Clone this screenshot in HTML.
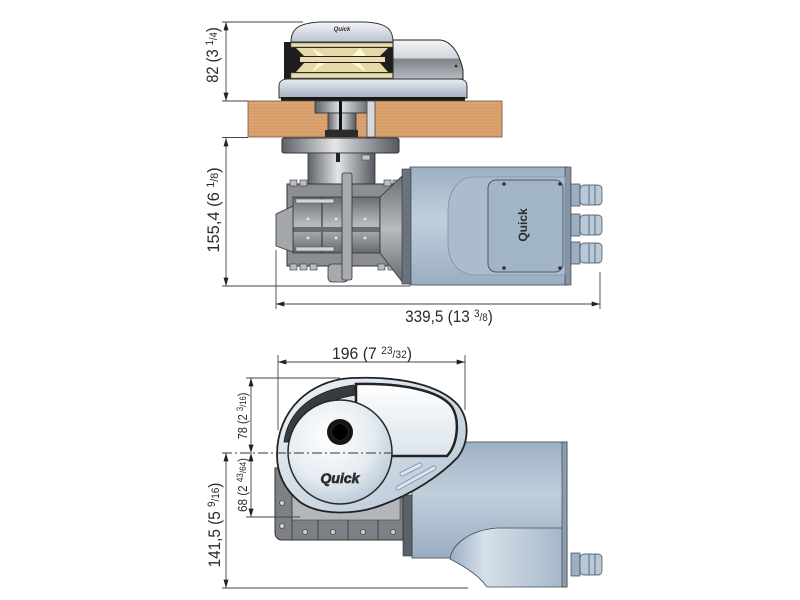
<!DOCTYPE html>
<html><head><meta charset="utf-8"><style>
html,body{margin:0;padding:0;background:#fff;}
svg{display:block;}
text{font-family:"Liberation Sans",sans-serif;fill:#2a2a2a;}
</style></head><body>
<svg width="800" height="600" viewBox="0 0 800 600" xmlns="http://www.w3.org/2000/svg">
<defs>
<marker id="ar" viewBox="0 0 10 6" refX="10" refY="3" markerWidth="9" markerHeight="5" markerUnits="userSpaceOnUse" orient="auto-start-reverse"><path d="M0,0 L10,3 L0,6 Z" fill="#222"/></marker>
<linearGradient id="dome" x1="0" y1="0" x2="0" y2="1"><stop offset="0" stop-color="#f4f6f8"/><stop offset="1" stop-color="#b9c2cc"/></linearGradient>
<linearGradient id="rcov" x1="0" y1="0" x2="0" y2="1"><stop offset="0" stop-color="#f2f4f6"/><stop offset="0.45" stop-color="#d3d8dd"/><stop offset="0.5" stop-color="#7d838a"/><stop offset="1" stop-color="#b6bbc1"/></linearGradient>
<linearGradient id="base" x1="0" y1="0" x2="0" y2="1"><stop offset="0" stop-color="#e6ecf2"/><stop offset="1" stop-color="#a3b0bf"/></linearGradient>
<linearGradient id="hmet" x1="0" y1="0" x2="1" y2="0"><stop offset="0" stop-color="#5e6166"/><stop offset="0.45" stop-color="#e4e6e8"/><stop offset="0.6" stop-color="#b9bcc0"/><stop offset="1" stop-color="#55585d"/></linearGradient>
<linearGradient id="vmet" x1="0" y1="0" x2="0" y2="1"><stop offset="0" stop-color="#6a6d72"/><stop offset="0.5" stop-color="#b8bbbf"/><stop offset="1" stop-color="#66696e"/></linearGradient>
<linearGradient id="motor" x1="0" y1="0" x2="0" y2="1"><stop offset="0" stop-color="#9db0c4"/><stop offset="0.45" stop-color="#c1cfdc"/><stop offset="1" stop-color="#9aadc1"/></linearGradient>
<linearGradient id="foot" x1="0" y1="0" x2="1" y2="0"><stop offset="0" stop-color="#9db0c4"/><stop offset="0.3" stop-color="#d6e0e9"/><stop offset="1" stop-color="#a3b5c8"/></linearGradient>
<radialGradient id="drum" cx="0.4" cy="0.35" r="0.7"><stop offset="0" stop-color="#ffffff"/><stop offset="0.6" stop-color="#e6ecf2"/><stop offset="1" stop-color="#b8c7d6"/></radialGradient>
<linearGradient id="house" x1="0" y1="0" x2="1" y2="1"><stop offset="0" stop-color="#eef3f7"/><stop offset="1" stop-color="#b4c4d4"/></linearGradient>
<linearGradient id="cover" x1="0" y1="0" x2="0" y2="1"><stop offset="0" stop-color="#ffffff"/><stop offset="1" stop-color="#dbe3ec"/></linearGradient>
</defs>
<rect width="800" height="600" fill="#fff"/>

<!-- ============ TOP VIEW ============ -->
<!-- dome & drums -->
<rect x="284" y="42" width="112" height="37" fill="#1e1e1e"/>
<rect x="291" y="43" width="102" height="4" fill="#e9ddb0" stroke="#6b6040" stroke-width="0.5"/>
<polygon points="296,48 388,48 380,56 304,56" fill="#e6d9a8"/>
<polygon points="312,48 325,56 318,56" fill="#fff6d8"/>
<polygon points="360,48 352,56 366,56" fill="#fff6d8"/>
<rect x="300" y="57" width="85" height="5" fill="#e9ddb0"/>
<polygon points="304,63 380,63 388,72 296,72" fill="#e6d9a8"/>
<polygon points="318,63 325,63 312,72" fill="#fff6d8"/>
<polygon points="352,63 360,63 366,72" fill="#fff6d8"/>
<rect x="291" y="73" width="102" height="5" fill="#e9ddb0" stroke="#6b6040" stroke-width="0.5"/>
<path d="M291,42 C291,28 300,23 320,22 L365,22 C385,23 393,28 393,42 Z" fill="url(#dome)" stroke="#333" stroke-width="1"/>
<text x="342" y="31" font-size="6" font-style="italic" font-weight="bold" text-anchor="middle" fill="#8896a6">Quick</text>
<path d="M393,40 L440,40 C452,41 460,55 463,70 L463,79 L393,79 Z" fill="url(#rcov)" stroke="#222" stroke-width="1"/>
<circle cx="456" cy="66" r="1.3" fill="#222"/>
<path d="M279,98 L279,86 C279,81 283,79 288,79 L458,79 C463,79 467,81 467,86 L467,98 Z" fill="url(#base)" stroke="#333" stroke-width="1"/>
<rect x="281" y="97" width="184" height="4" fill="#1a1a1a"/>

<!-- wood deck -->
<rect x="248" y="101" width="254" height="36" fill="#dca470" stroke="#7a5232" stroke-width="0.8"/>
<g stroke="#c68b58" stroke-width="0.6">
<line x1="249" y1="105" x2="501" y2="105"/><line x1="249" y1="108" x2="501" y2="108"/><line x1="249" y1="111" x2="501" y2="111"/><line x1="249" y1="114" x2="501" y2="114"/><line x1="249" y1="117" x2="501" y2="117"/><line x1="249" y1="120" x2="501" y2="120"/><line x1="249" y1="123" x2="501" y2="123"/><line x1="249" y1="126" x2="501" y2="126"/><line x1="249" y1="129" x2="501" y2="129"/><line x1="249" y1="132" x2="501" y2="132"/><line x1="249" y1="135" x2="501" y2="135"/>
</g>
<rect x="315" y="101" width="58" height="12" fill="url(#hmet)" stroke="#333" stroke-width="0.8"/>
<rect x="328" y="113" width="28" height="17" fill="url(#hmet)" stroke="#333" stroke-width="0.8"/>
<rect x="325" y="130" width="33" height="7" fill="#2b2b2b"/>
<rect x="339" y="101" width="3" height="29" fill="#111"/>
<rect x="367" y="101" width="8" height="36" fill="#d7dadd" stroke="#444" stroke-width="0.8"/>

<!-- flange & neck -->
<rect x="282" y="138" width="117" height="15" rx="2" fill="url(#hmet)" stroke="#333" stroke-width="1"/>
<rect x="308" y="153" width="67" height="32" fill="url(#hmet)" stroke="#333" stroke-width="0.8"/>
<rect x="336" y="153" width="4" height="9" fill="#222"/>
<rect x="362" y="155" width="8" height="5" fill="#c5c8cb" stroke="#444" stroke-width="0.6"/>

<!-- gearbox -->
<rect x="287" y="184" width="116" height="82" fill="#8b8e93" stroke="#333" stroke-width="1"/>
<g fill="#b9bcc0" stroke="#333" stroke-width="0.6">
<rect x="290" y="180" width="7" height="6"/><rect x="300" y="180" width="7" height="6"/><rect x="384" y="180" width="7" height="6"/><rect x="393" y="180" width="7" height="6"/>
<rect x="290" y="264" width="7" height="6"/><rect x="300" y="264" width="7" height="6"/><rect x="378" y="264" width="7" height="6"/><rect x="388" y="264" width="7" height="6"/><rect x="310" y="264" width="7" height="6"/>
</g>
<rect x="293" y="197" width="107" height="56" fill="url(#vmet)" stroke="#333" stroke-width="0.8"/>
<g stroke="#3a3c40" stroke-width="1.2">
<line x1="322" y1="197" x2="322" y2="253"/><line x1="350" y1="197" x2="350" y2="253"/><line x1="380" y1="197" x2="380" y2="253"/>
</g>
<rect x="293" y="227" width="107" height="5" fill="#6a6d72"/>
<g fill="#d2d4d7"><rect x="296" y="199" width="38" height="4" stroke="#444" stroke-width="0.5"/><rect x="296" y="247" width="38" height="4" stroke="#444" stroke-width="0.5"/></g>
<g fill="#e4e6e8"><circle cx="308" cy="219" r="1.4"/><circle cx="336" cy="219" r="1.4"/><circle cx="365" cy="219" r="1.4"/><circle cx="308" cy="238" r="1.4"/><circle cx="336" cy="238" r="1.4"/><circle cx="365" cy="238" r="1.4"/></g>
<polygon points="276,214 293,206 293,252 276,246" fill="#a3a6aa" stroke="#333" stroke-width="0.8"/>
<polygon points="380,197 403,175 403,283 380,253" fill="url(#vmet)" stroke="#333" stroke-width="0.8"/>
<rect x="328" y="264" width="20" height="18" rx="4" fill="#a6a9ad" stroke="#333" stroke-width="0.8"/>
<rect x="342" y="173" width="10" height="107" rx="2" fill="#a7aaae" stroke="#333" stroke-width="0.8"/>

<!-- motor -->
<rect x="410" y="167" width="157" height="118" fill="url(#motor)" stroke="#3f4a56" stroke-width="0.8"/>
<rect x="402" y="169" width="9" height="115" fill="#69737e" stroke="#333" stroke-width="0.6"/>
<rect x="565" y="167" width="6" height="118" fill="#8595a7" stroke="#333" stroke-width="0.6"/>
<path d="M472,177 C456,179 448,193 448,212 L448,242 C448,261 456,272 472,275 L565,275 L565,177 Z" fill="#aabcce" stroke="#7f90a3" stroke-width="0.8"/>
<rect x="488" y="180" width="75" height="92" rx="8" fill="#a2b4c7" stroke="#4e5a68" stroke-width="1"/>
<g fill="#333"><circle cx="504" cy="184" r="1.8"/><circle cx="560" cy="184" r="1.8"/><circle cx="504" cy="268" r="1.8"/><circle cx="560" cy="268" r="1.8"/></g>
<text transform="translate(527,225) rotate(-90)" font-size="12" font-weight="bold" text-anchor="middle" fill="#7e92a8">Quick</text>
<g stroke="#3b4652" stroke-width="0.7">
<rect x="571" y="184" width="9" height="22" fill="#9cafc2"/><rect x="580" y="185" width="22" height="20" rx="4" fill="#b9c9d8"/><line x1="589" y1="185" x2="589" y2="205"/><line x1="595" y1="185" x2="595" y2="205"/>
<rect x="571" y="214" width="9" height="22" fill="#9cafc2"/><rect x="580" y="215" width="22" height="20" rx="4" fill="#b9c9d8"/><line x1="589" y1="215" x2="589" y2="235"/><line x1="595" y1="215" x2="595" y2="235"/>
<rect x="571" y="242" width="9" height="22" fill="#9cafc2"/><rect x="580" y="243" width="22" height="20" rx="4" fill="#b9c9d8"/><line x1="589" y1="243" x2="589" y2="263"/><line x1="595" y1="243" x2="595" y2="263"/>
</g>

<!-- top view dimensions -->
<g stroke="#444" stroke-width="0.9" fill="none">
<line x1="222" y1="22" x2="303" y2="22"/>
<line x1="222" y1="101" x2="248" y2="101"/>
<line x1="222" y1="137.5" x2="248" y2="137.5"/>
<line x1="222" y1="286" x2="410" y2="286"/>
<line x1="276" y1="250" x2="276" y2="309"/>
<line x1="600" y1="272" x2="600" y2="309"/>
<line x1="226" y1="22" x2="226" y2="101" marker-start="url(#ar)" marker-end="url(#ar)"/>
<line x1="226" y1="138" x2="226" y2="286" marker-start="url(#ar)" marker-end="url(#ar)"/>
<line x1="276" y1="304" x2="600" y2="304" marker-start="url(#ar)" marker-end="url(#ar)"/>
</g>
<g transform="translate(218,55) rotate(-90) scale(0.86,1)"><text x="0" y="0" font-size="17" text-anchor="middle">82 (3 <tspan font-size="11" dy="-5">1</tspan><tspan font-size="11" dy="4">/4</tspan><tspan dy="1">)</tspan></text></g>
<g transform="translate(219,210) rotate(-90) scale(0.97,1)"><text x="0" y="0" font-size="17" text-anchor="middle">155,4 (6 <tspan font-size="11" dy="-5">1</tspan><tspan font-size="11" dy="4">/8</tspan><tspan dy="1">)</tspan></text></g>
<g transform="translate(449,322) scale(0.9,1)"><text x="0" y="0" font-size="17" text-anchor="middle">339,5 (13 <tspan font-size="11" dy="-5">3</tspan><tspan font-size="11" dy="4">/8</tspan><tspan dy="1">)</tspan></text></g>

<!-- ============ BOTTOM VIEW ============ -->
<!-- motor body -->
<rect x="412" y="442" width="155" height="116" fill="url(#motor)" stroke="#3f4a56" stroke-width="0.8"/>
<path d="M497,528 C470,530 452,544 450,559 C466,567 480,577 487,587 L567,587 L567,528 Z" fill="url(#foot)" stroke="#3f4a56" stroke-width="0.8"/>
<rect x="562" y="442" width="5" height="145" fill="#8c9db0" stroke="#333" stroke-width="0.6"/>
<rect x="403" y="495" width="9" height="61" fill="#5b6168" stroke="#333" stroke-width="0.6"/>
<g stroke="#3b4652" stroke-width="0.7">
<rect x="571" y="553" width="9" height="23" fill="#9cafc2"/><rect x="580" y="554" width="22" height="21" rx="4" fill="#b9c9d8"/><line x1="589" y1="554" x2="589" y2="575"/><line x1="595" y1="554" x2="595" y2="575"/>
</g>

<!-- bracket -->
<path d="M275,468 L403,468 L403,540 L282,540 C278,540 275,537 275,533 Z" fill="#7d8187" stroke="#333" stroke-width="1"/>
<rect x="292" y="488" width="108" height="32" fill="#b3b6ba" stroke="#444" stroke-width="0.6"/>
<g stroke="#444" stroke-width="1"><line x1="318" y1="520" x2="318" y2="540"/><line x1="348" y1="520" x2="348" y2="540"/><line x1="378" y1="520" x2="378" y2="540"/><line x1="292" y1="470" x2="292" y2="540"/></g>
<g fill="#c9ccd0" stroke="#333" stroke-width="0.6"><circle cx="282" cy="503" r="2.5"/><circle cx="282" cy="526" r="2.5"/><circle cx="305" cy="532" r="2.5"/><circle cx="333" cy="532" r="2.5"/><circle cx="363" cy="532" r="2.5"/><circle cx="393" cy="532" r="2.5"/></g>

<!-- gypsy housing -->
<path d="M277,455 C277,410 310,380 352,378 C400,376 440,385 458,405 C470,420 469,442 458,457 C440,476 412,494 382,505 C356,515 320,516 300,502 C285,490 277,474 277,455 Z" fill="url(#house)" stroke="#222" stroke-width="1.8"/>
<path d="M284,442 C288,410 314,390 354,385 L356,395 C322,400 300,418 296,442 Z" fill="#3a3b3d" stroke="#1a1a1a" stroke-width="0.8"/>
<path d="M356,384 C400,383 440,390 452,407 C460,420 458,444 447,456 L356,456 Z" fill="url(#cover)" stroke="#222" stroke-width="2.5"/>
<circle cx="340" cy="452" r="52" fill="url(#drum)" stroke="#262626" stroke-width="1.5"/>
<circle cx="340" cy="432" r="13" fill="#151515"/>
<polygon points="340,423 346,426 349,432 346,438 340,441 334,438 331,432 334,426" fill="#000" stroke="#333" stroke-width="0.6"/>
<text x="340" y="483" font-size="14" font-weight="bold" font-style="italic" text-anchor="middle" fill="#eef2f6" stroke="#333" stroke-width="0.7">Quick</text>
<g stroke-linecap="round" fill="none">
<line x1="402" y1="474" x2="420" y2="465" stroke="#8799ae" stroke-width="5"/>
<line x1="402" y1="474" x2="420" y2="465" stroke="#dde6ee" stroke-width="3"/>
<line x1="398" y1="488" x2="434" y2="468" stroke="#8799ae" stroke-width="5"/>
<line x1="398" y1="488" x2="434" y2="468" stroke="#dde6ee" stroke-width="3"/>
</g>

<!-- bottom view dimensions -->
<g stroke="#444" stroke-width="0.9" fill="none">
<line x1="278" y1="355" x2="278" y2="430"/>
<line x1="465" y1="355" x2="465" y2="410"/>
<line x1="278" y1="362" x2="465" y2="362" marker-start="url(#ar)" marker-end="url(#ar)"/>
<line x1="246" y1="378" x2="340" y2="378"/>
<line x1="246" y1="517" x2="300" y2="517"/>
<line x1="222" y1="588" x2="468" y2="588"/>
<line x1="251" y1="378" x2="251" y2="453" marker-start="url(#ar)" marker-end="url(#ar)"/>
<line x1="251" y1="453" x2="251" y2="517" marker-start="url(#ar)" marker-end="url(#ar)"/>
<line x1="226" y1="453" x2="226" y2="588" marker-start="url(#ar)" marker-end="url(#ar)"/>
<line x1="222" y1="453" x2="392" y2="453" stroke="#333" stroke-dasharray="10,3,2,3"/>
</g>
<g transform="translate(372,359) scale(0.93,1)"><text x="0" y="0" font-size="17" text-anchor="middle">196 (7 <tspan font-size="11" dy="-5">23</tspan><tspan font-size="11" dy="4">/32</tspan><tspan dy="1">)</tspan></text></g>
<g transform="translate(247,416) rotate(-90) scale(0.85,1)"><text x="0" y="0" font-size="13" text-anchor="middle">78 (2 <tspan font-size="9" dy="-4">3</tspan><tspan font-size="9" dy="3">/16</tspan><tspan dy="1">)</tspan></text></g>
<g transform="translate(247,485) rotate(-90) scale(0.9,1)"><text x="0" y="0" font-size="13" text-anchor="middle">68 (2 <tspan font-size="9" dy="-4">43</tspan><tspan font-size="9" dy="3">/64</tspan><tspan dy="1">)</tspan></text></g>
<g transform="translate(220,525) rotate(-90) scale(0.9,1)"><text x="0" y="0" font-size="17" text-anchor="middle">141,5 (5 <tspan font-size="11" dy="-5">9</tspan><tspan font-size="11" dy="4">/16</tspan><tspan dy="1">)</tspan></text></g>
</svg>
</body></html>
